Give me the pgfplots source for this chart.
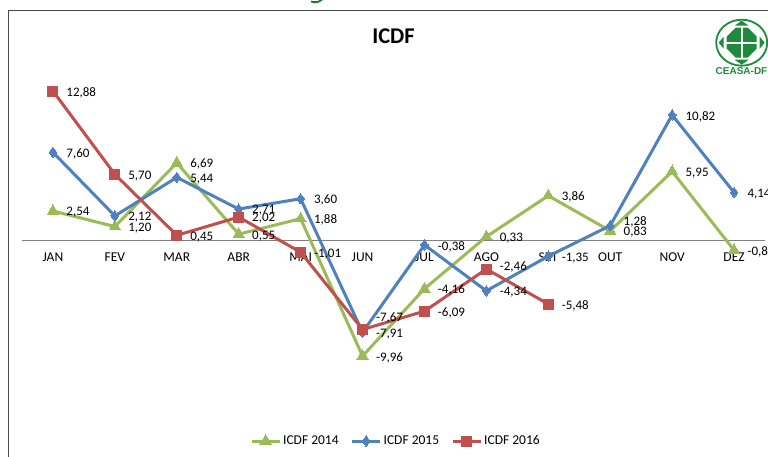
\documentclass[border=0pt]{standalone}
\usepackage{pgfplots}
\pgfplotsset{compat=1.18}
\usepackage{fontspec}
\setmainfont{Carlito}
\newfontfamily\logofont{Liberation Sans}
\definecolor{g14}{HTML}{9BBB59}
\definecolor{b15}{HTML}{4F81BD}
\definecolor{r16}{HTML}{C0504D}
\definecolor{logog}{HTML}{1E8A3C}
\begin{document}
\begin{tikzpicture}[x=1pt,y=1pt]
\path[use as bounding box] (0,0) rectangle (768,457);
\clip (0,0) rectangle (768,457);
\fill[white] (0,0) rectangle (768,457);
\draw[color=black!70,line width=1.5pt] (8.3,0) -- (8.3,446.3) -- (768,446.3);
\begin{axis}[
  at={(22pt,0pt)},anchor=south west,
  scale only axis,width=743pt,height=457pt,
  xmin=-0.5,xmax=11.5,ymin=-18.66,ymax=20.73,
  clip=false,
  axis y line=none,
  axis x line=middle,
  axis line style={draw=black!50,line width=1pt,-},
  xtick={0,...,11},
  xticklabels={JAN,FEV,MAR,ABR,MAI,JUN,JUL,AGO,SET,OUT,NOV,DEZ},
  major tick length=0pt,
  tick label style={font=\fontsize{13.5}{15}\selectfont,inner sep=0pt},
  xticklabel style={anchor=center,yshift=-17pt},
  point meta=explicit symbolic,
  nodes near coords,
  nodes near coords style={font=\fontsize{13}{15}\selectfont,color=black},
  nodes near coords align={anchor=west,inner sep=0pt,xshift=13.5pt},
  visualization depends on={\thisrow{dy} \as \dy},
  every node near coord/.append style={yshift=\dy pt,yshift=-1.5pt},
  legend columns=3,
  legend style={draw=none,fill=none,at={(0.307,0.035)},anchor=west,
    font=\fontsize{13.5}{15}\selectfont,inner sep=0pt,outer sep=0pt,
    /tikz/every even column/.append style={column sep=10pt}},
  legend image code/.code={\draw[#1,mark repeat=2,mark phase=2] plot coordinates {(0pt,0pt)(14pt,0pt)(28pt,0pt)};},
  legend cell align=left,
]
\addplot[color=g14,line width=3pt,mark=triangle*,mark size=6.5pt,mark options={solid,fill=g14,draw=g14,line width=0pt}]
 table[x=x,y=y,meta=lab]{
x y lab dy
0 2.54 2,54 0
1 1.20 1,20 0
2 6.69 6,69 0
3 0.55 0,55 0
4 1.88 1,88 0
5 -9.96 -9,96 0
6 -4.16 -4,16 0
7 0.33 0,33 0
8 3.86 3,86 0
9 0.83 0,83 0
10 5.95 5,95 0
11 -0.83 -0,83 0
};
\addlegendentry{ICDF 2014}
\addplot[color=b15,line width=3pt,mark=diamond*,mark size=5.2pt,mark options={solid,fill=b15,draw=b15,line width=0pt}]
 table[x=x,y=y,meta=lab]{
x y lab dy
0 7.60 7,60 0
1 2.12 2,12 0
2 5.44 5,44 0
3 2.71 2,71 0
4 3.60 3,60 0
5 -7.91 -7,91 0
6 -0.38 -0,38 0
7 -4.34 -4,34 0
8 -1.35 -1,35 0
9 1.28 1,28 5
10 10.82 10,82 0
11 4.14 4,14 0
};
\addlegendentry{ICDF 2015}
\addplot[color=r16,line width=3pt,mark=square*,mark size=5pt,mark options={solid,fill=r16,draw=r16,line width=0pt}]
 table[x=x,y=y,meta=lab]{
x y lab dy
0 12.88 12,88 0
1 5.70 5,70 0
2 0.45 0,45 0
3 2.02 2,02 0
4 -1.01 -1,01 0
5 -7.67 -7,67 13.5
6 -6.09 -6,09 0
7 -2.46 -2,46 4
8 -5.48 -5,48 0
};
\addlegendentry{ICDF 2016}
\end{axis}
% title
\node[font=\bfseries\fontsize{22.5}{24}\selectfont,inner sep=0pt] at (393.5,421) {ICDF};
% logo
\begin{scope}[shift={(741.7,414.3)}]
  \draw[logog,line width=1.8pt] (0,0) ellipse (25.5 and 23);
  \fill[logog] (-15,-6) -- (-6,-15) -- (6,-15) -- (15,-6) -- (15,6) -- (6,15) -- (-6,15) -- (-15,6) -- cycle;
  \fill[white] (-1,-15.5) rectangle (1,15.5);
  \fill[white] (-15.5,-1) rectangle (15.5,1);
  \fill[logog] (-7,17) -- (7,17) -- (0,22) -- cycle;
  \fill[logog] (-7,-17) -- (7,-17) -- (0,-22) -- cycle;
  \fill[logog] (-18,-6) -- (-18,6) -- (-23,0) -- cycle;
  \fill[logog] (18,-6) -- (18,6) -- (23,0) -- cycle;
\end{scope}
\node[font=\logofont\bfseries\fontsize{10}{11}\selectfont,text=logog,inner sep=0pt] at (741.5,386) {CEASA-DF};
% cut-off heading fragment at the top
\draw[logog!85!black,line width=1.8pt] (311,455.5) .. controls (314,454.3) and (319,454.3) .. (322,457.5);
\end{tikzpicture}
\end{document}
